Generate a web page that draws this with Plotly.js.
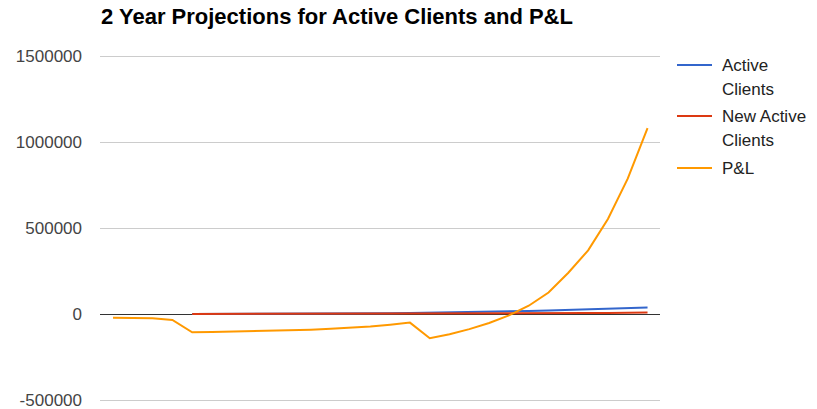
<!DOCTYPE html>
<html>
<head>
<meta charset="utf-8">
<script src="https://cdn.plot.ly/plotly-3.0.1.min.js"></script>
<style>html,body{margin:0;padding:0;background:#fff;}#chart{width:817px;height:409px;}</style>
</head>
<body>
<div id="chart"></div>
<script>
const months = [1,2,3,4,5,6,7,8,9,10,11,12,13,14,15,16,17,18,19,20,21,22,23,24,25,26,27,28];
const activeClients = [null,null,null,null,100,250,450,700,1000,1400,1900,2500,3200,4000,5000,6200,7600,9200,11000,13000,15300,17800,20500,23500,26800,30300,34000,38000];
const newActiveClients = [null,null,null,null,100,150,200,250,300,400,500,600,700,800,1000,1200,1500,1800,2100,2500,2900,3400,4000,4700,5500,6400,7400,8500];
const pnl = [-22000,-22000,-24000,-35000,-106000,-105000,-103000,-101000,-98000,-95000,-91000,-86000,-80000,-72000,-62000,-50000,-141000,-118000,-88000,-52000,-8000,48000,125000,240000,370000,552000,787000,1080000];
const seriesNames = ["Active Clients","New Active Clients","P&L"];
const legendLines = [["Active","Clients"],["New Active","Clients"],["P&L"]];
const seriesColors = ["#3366cc","#dc3912","#ff9900"];
const yTicks = [-500000,0,500000,1000000,1500000];

const W = 817, H = 409;
const M = {l: 100, r: 157, t: 50, b: 3};
const PW = W - M.l - M.r, PH = H - M.t - M.b;
const px = x => (x - M.l) / PW;
const py = y => (H - M.b - y) / PH;
// value scale: 0 at pixel 314, 500000 per 86 px
const valAt = y => (314 - y) / 86 * 500000;

const seriesData = [activeClients, newActiveClients, pnl];
const traces = seriesData.map((ys, k) => ({
  x: months, y: ys, type: "scatter", mode: "lines", name: seriesNames[k],
  line: {color: seriesColors[k], width: 2}, connectgaps: false, hoverinfo: "x+y"
}));

const shapes = [], annotations = [];
const itemTop = [65, 116, 168];
const lineStep = 24.5;
legendLines.forEach((lines, k) => {
  shapes.push({type: "line", xref: "paper", yref: "paper", x0: px(677), x1: px(712), y0: py(itemTop[k]), y1: py(itemTop[k]),
               line: {color: seriesColors[k], width: 2}});
  lines.forEach((t, j) => {
    annotations.push({xref: "paper", yref: "paper", x: px(720), y: py(itemTop[k] + j * lineStep), xanchor: "left", yanchor: "middle",
                      text: t, showarrow: false, font: {size: 17, color: "#222"}});
  });
});

const layout = {
  width: W, height: H,
  margin: M,
  paper_bgcolor: "#fff", plot_bgcolor: "#fff",
  font: {family: "Liberation Sans, Arial, sans-serif", color: "#444", size: 17},
  title: {text: "<b>2 Year Projections for Active Clients and P&L</b>", x: px(101), xref: "paper", xanchor: "left",
          y: 1 - 16 / H, yref: "container", yanchor: "middle",
          font: {family: "Liberation Sans, Arial, sans-serif", size: 22, color: "#000"}},
  xaxis: {range: [0.343, 28.63], showticklabels: false, showgrid: false, zeroline: false, showline: false, ticks: ""},
  yaxis: {range: [valAt(H - M.b), valAt(M.t)], tickvals: yTicks, ticktext: yTicks.map(String),
          showgrid: true, gridcolor: "#cccccc", gridwidth: 1, zeroline: true, zerolinecolor: "#333", zerolinewidth: 1,
          showline: false, ticks: "", ticklabelstandoff: 17, ticklabeloverflow: "allow", tickfont: {size: 17, color: "#444"}},
  showlegend: false,
  shapes: shapes,
  annotations: annotations
};

Plotly.newPlot("chart", traces, layout, {displayModeBar: false, responsive: false});
</script>
</body>
</html>
